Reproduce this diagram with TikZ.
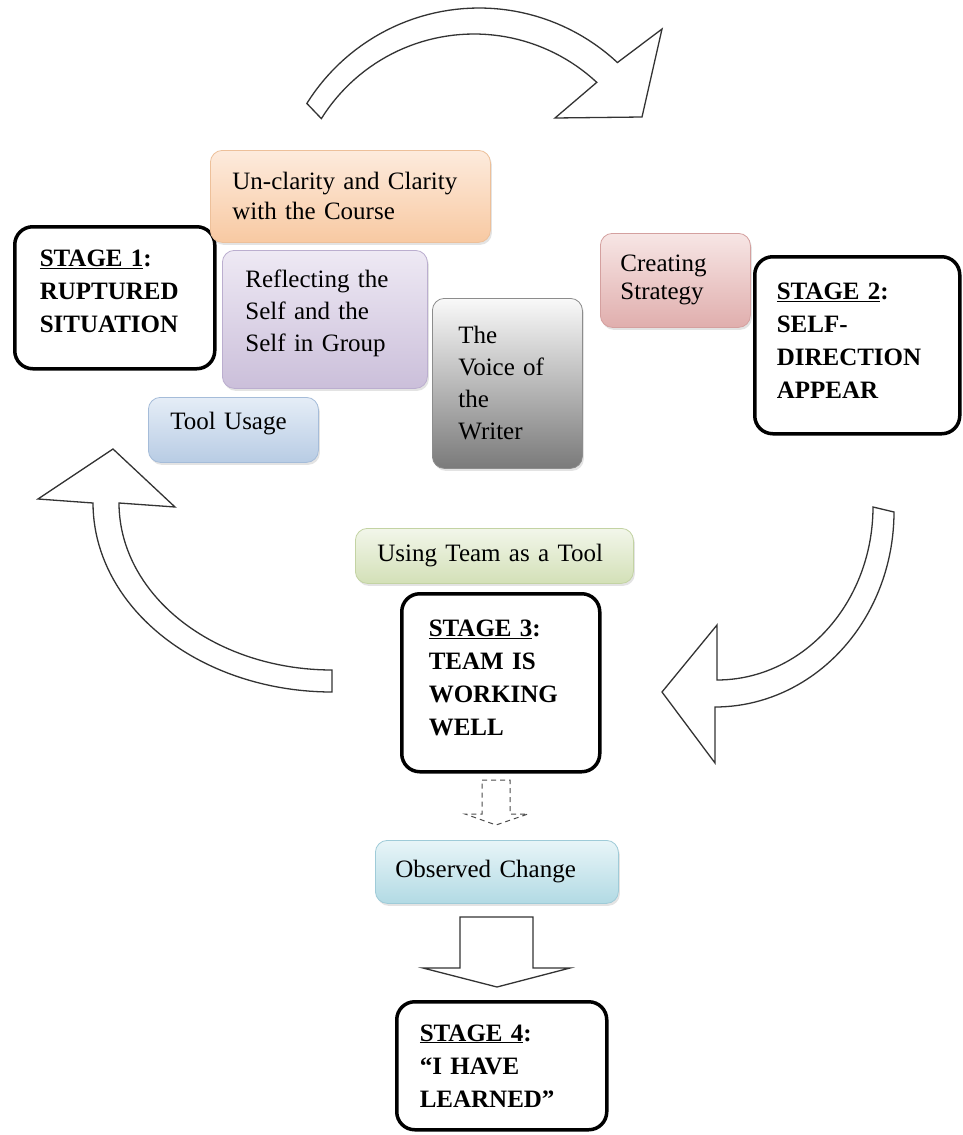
\documentclass[tikz,border=0pt]{standalone}
\usepackage{fontspec}
\setmainfont{Liberation Serif}
\usetikzlibrary{shadows}
\definecolor{oT}{HTML}{FDEBDD}\definecolor{oB}{HTML}{F8C9A2}\definecolor{oD}{HTML}{EDC09A}
\definecolor{pT}{HTML}{EEE9F4}\definecolor{pB}{HTML}{CBBFDA}\definecolor{pD}{HTML}{BBAECF}
\definecolor{bT}{HTML}{E5EDF7}\definecolor{bB}{HTML}{B8CCE4}\definecolor{bD}{HTML}{A5BCD9}
\definecolor{gT}{HTML}{F9F9F9}\definecolor{gB}{HTML}{7A7A7A}\definecolor{gD}{HTML}{8C8C8C}
\definecolor{rT}{HTML}{F7E6E5}\definecolor{rB}{HTML}{E0AEAD}\definecolor{rD}{HTML}{D4A09F}
\definecolor{vT}{HTML}{F2F6EA}\definecolor{vB}{HTML}{D3E0B7}\definecolor{vD}{HTML}{C3D3A3}
\definecolor{cT}{HTML}{E8F5F8}\definecolor{cB}{HTML}{B2DAE4}\definecolor{cD}{HTML}{9FCBD8}
\tikzset{
  stagebox/.style={draw=black, line width=3.5pt, rounded corners=18pt, fill=white,
    align=left, anchor=north west, inner ysep=0pt,
    font=\bfseries\fontsize{25}{33}\selectfont},
  tbox/.style={rounded corners=12pt, align=left, anchor=north west, inner ysep=0pt,
    line width=0.8pt, font=\fontsize{25}{32}\selectfont,
    drop shadow={shadow xshift=1.5pt, shadow yshift=-2.5pt, opacity=0.22}},
  barrow/.style={draw=black!80, line width=1.3pt, fill=white, line join=miter},
  darrow/.style={draw=black!70, line width=1pt, dash pattern=on 5pt off 4pt, fill=white}
}
\begin{document}
\begin{tikzpicture}[x=1pt,y=-1pt]
\fill[white] (0,0) rectangle (962,1135);
\useasboundingbox (0,0) rectangle (962,1135);

% cycle arrows
\draw[barrow] plot[domain=-148:-47, samples=50] ({479+203*cos(\x)},{211+203*sin(\x)})
  -- (662,29) -- (642,117) -- (555,118)
  -- plot[domain=47:148, samples=50] ({474+180*cos(-\x)},{214+180*sin(-\x)}) -- cycle;

\draw[barrow] plot[domain=0:90, samples=50] ({717+156*cos(\x)},{507+173*sin(\x)})
  -- (717,625) -- (662,692) -- (715,763)
  -- plot[domain=0:90, samples=50] ({715+179*cos(90-\x)},{512+195*sin(90-\x)}) -- cycle;

\draw[barrow] plot[domain=90:180, samples=50] ({332+239*cos(\x)},{503+189*sin(\x)})
  -- (38,499) -- (113,449) -- (175,507)
  -- plot[domain=90:180, samples=50] ({332+213*cos(270-\x)},{503+167*sin(270-\x)}) -- cycle;

% stage boxes
\node[stagebox, text width=150pt, inner xsep=25pt, minimum height=142pt, text depth=79pt] (s1) at (13,225)
  {\underline{STAGE 1}:\\RUPTURED\\SITUATION};
\node[stagebox, text width=161pt, inner xsep=22pt, minimum height=177pt, text depth=108pt] (s2) at (753,255)
  {\underline{STAGE 2}:\\SELF-\\DIRECTION\\APPEAR};
\node[stagebox, text width=144pt, inner xsep=27pt, minimum height=178pt, text depth=109pt] (s3) at (400,592)
  {\underline{STAGE 3}:\\TEAM IS\\WORKING\\WELL};
\node[stagebox, text width=164pt, inner xsep=23pt, minimum height=128pt] (s4) at (395,1000)
  {\underline{STAGE 4}:\\“I HAVE\\LEARNED”};

% theme boxes
\node[tbox, draw=oD, top color=oT, bottom color=oB, text width=236pt, inner xsep=22pt,
  minimum height=92pt, font=\fontsize{25}{30}\selectfont] (clar) at (210,150)
  {Un-clarity and Clarity\\with the Course};
\node[tbox, draw=pD, top color=pT, bottom color=pB, text width=159pt, inner xsep=23pt,
  minimum height=138pt, text depth=81pt] (refl) at (222,250)
  {Reflecting the\\Self and the\\Self in Group};
\node[tbox, draw=bD, top color=bT, bottom color=bB, text width=126pt, inner xsep=22pt,
  minimum height=65pt, text depth=18pt] (tool) at (148,397) {Tool Usage};
\node[tbox, draw=gD, top color=gT, bottom color=gB, text width=98pt, inner xsep=26pt,
  minimum height=170pt] (voice) at (432,298)
  {The\\Voice of\\the\\Writer};
\node[tbox, draw=rD, top color=rT, bottom color=rB, text width=110pt, inner xsep=20pt,
  minimum height=94pt, font=\fontsize{25}{28}\selectfont] (strat) at (600,233)
  {Creating\\Strategy};
\node[tbox, draw=vD, top color=vT, bottom color=vB, text width=234pt, inner xsep=22pt,
  minimum height=55pt] (team) at (355,528) {Using Team as a Tool};
\node[tbox, draw=cD, top color=cT, bottom color=cB, text width=203pt, inner xsep=20pt,
  minimum height=63pt] (obs) at (375,840) {Observed Change};

% down arrows
\draw[darrow] (482,780) -- (510,780) -- (510,814) -- (528,814) -- (496,825)
  -- (465,814) -- (482,814) -- cycle;
\draw[barrow] (460,917) -- (533,917) -- (533,968) -- (570,968) -- (497,987)
  -- (423,968) -- (460,968) -- cycle;
\end{tikzpicture}
\end{document}
